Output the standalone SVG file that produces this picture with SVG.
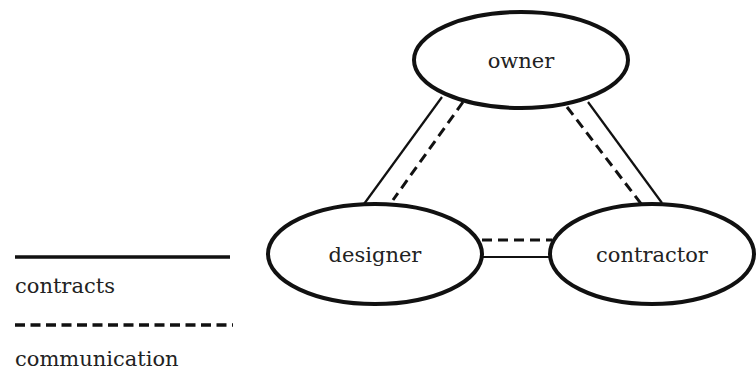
<svg xmlns="http://www.w3.org/2000/svg" width="756" height="390" viewBox="0 0 756 390">
<style>
.node{fill:#fff;stroke:#111;stroke-width:4}
.lbl{font-family:'DejaVu Serif',serif;font-size:21px;fill:#222;text-anchor:middle}
.leg{font-family:'DejaVu Serif',serif;font-size:21px;fill:#222}
.solid{stroke:#111;stroke-width:2.2;fill:none}
.dash{stroke:#111;stroke-width:3;fill:none;stroke-dasharray:10 6}
</style>
<rect width="756" height="390" fill="#fff"/>
<g id="connectors">
<line class="solid" x1="442" y1="97" x2="364" y2="204"/>
<line class="dash" x1="463" y1="102" x2="393" y2="200"/>
<line class="dash" x1="567" y1="107" x2="642" y2="205"/>
<line class="solid" x1="588" y1="102" x2="662" y2="203"/>
<line class="dash" x1="482" y1="240" x2="552" y2="240"/>
<line class="solid" x1="482" y1="257" x2="552" y2="257"/>
</g>
<g id="owner">
<ellipse class="node" cx="521" cy="60" rx="107" ry="48"/>
<text class="lbl" x="521" y="68">owner</text>
</g>
<g id="designer">
<ellipse class="node" cx="375" cy="254" rx="107" ry="50"/>
<text class="lbl" x="375" y="262">designer</text>
</g>
<g id="contractor">
<ellipse class="node" cx="652" cy="254" rx="102" ry="50"/>
<text class="lbl" x="652" y="262">contractor</text>
</g>
<g id="legend">
<line x1="15" y1="257" x2="230" y2="257" stroke="#111" stroke-width="3.5"/>
<text class="leg" x="15" y="293">contracts</text>
<line x1="15" y1="325" x2="233" y2="325" stroke="#111" stroke-width="3.5" stroke-dasharray="10 5.5"/>
<text class="leg" x="15" y="366">communication</text>
</g>
</svg>
